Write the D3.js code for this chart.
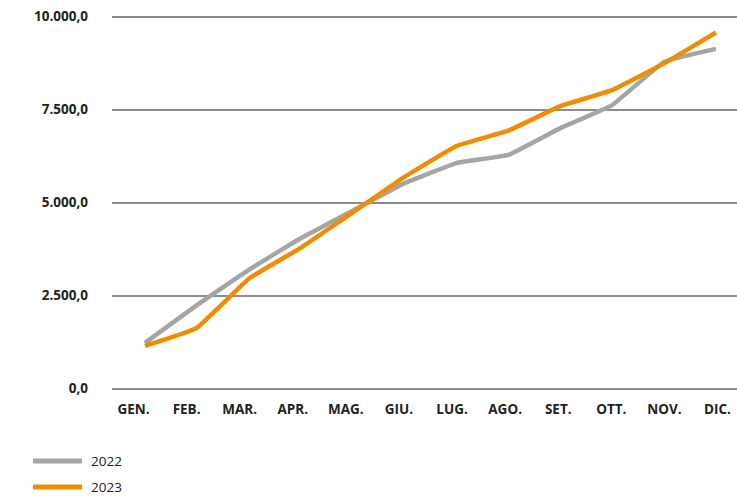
<!DOCTYPE html>
<html>
<head>
<meta charset="utf-8">
<script src="https://cdn.jsdelivr.net/npm/d3@7"></script>
<style>
  body { margin: 0; background: #fff; }
  svg, svg text { font-family: "Open Sans", sans-serif; }
</style>
</head>
<body>
<svg></svg>
<script>
const width = 737;
const height = 497;

// dati
const mesi = ["GEN.", "FEB.", "MAR.", "APR.", "MAG.", "GIU.", "LUG.", "AGO.", "SET.", "OTT.", "NOV.", "DIC."];
const valori2022 = [1225, 2240, 3190, 4040, 4780, 5520, 6060, 6280, 7000, 7620, 8780, 9130];
const valori2023 = [1145, 1630, 2950, 3780, 4730, 5690, 6520, 6930, 7590, 8020, 8740, 9570];
const yTicks = [0, 2500, 5000, 7500, 10000];
const serie = [
  { nome: "2022", valori: valori2022, colore: "#a5a5a5" },
  { nome: "2023", valori: valori2023, colore: "#f08c00" }
];

let svg = d3.select("svg")
    .attr("width", width)
    .attr("height", height);

// scale
const scaleX = d3.scalePoint().domain(mesi).range([145, 716]);
const scaleLab = d3.scalePoint().domain(mesi).range([133, 717]);
const scaleY = d3.scaleLinear().domain([0, 10000]).range([388.5, 16.5]);

const fmt = v => d3.format(",.1f")(v).replace(/,/g, "#").replace(".", ",").replace(/#/g, ".");

// griglia e asse Y
const axisY = d3.axisLeft(scaleY)
    .tickValues(yTicks)
    .tickSize(-(width - 112))
    .tickFormat(fmt);

svg.append("g")
    .attr("transform", "translate(112,0)")
    .call(axisY)
    .attr("font-family", null)
    .call(g => g.select(".domain").remove())
    .call(g => g.selectAll("line").attr("stroke", "#1a1a1a").attr("stroke-width", 1))
    .call(g => g.selectAll("text")
        .attr("x", -24)
        .attr("font-size", 13.5)
        .attr("font-weight", "bold")
        .attr("fill", "#222"));

// asse X (solo etichette)
svg.append("g")
    .attr("transform", "translate(0,398)")
    .call(d3.axisBottom(scaleLab).tickSize(0))
    .attr("font-family", null)
    .call(g => g.select(".domain").remove())
    .call(g => g.selectAll("text")
        .attr("dy", "0.95em")
        .attr("font-size", 13.5)
        .attr("font-weight", "bold")
        .attr("fill", "#222"));

// linee (smussatura lieve)
const line = d3.line()
    .x((d, i) => scaleX(mesi[i]))
    .y(d => scaleY(d))
    .curve(d3.curveCardinal.tension(0.75));

for (let s of serie) {
  svg.append("path")
    .datum(s.valori)
    .attr("fill", "none")
    .attr("stroke", s.colore)
    .attr("stroke-width", 4.5)
    .attr("stroke-linejoin", "round")
    .attr("d", line);
}

// legenda
const legend = svg.selectAll(".leg")
    .data(serie)
    .enter()
    .append("g")
    .attr("transform", (d, i) => `translate(33, ${461 + i * 26})`);

legend.append("line")
    .attr("x1", 0).attr("x2", 49)
    .attr("stroke", d => d.colore)
    .attr("stroke-width", 5);

legend.append("text")
    .attr("x", 58)
    .attr("dy", "0.35em")
    .attr("font-size", 13.5)
    .attr("fill", "#222")
    .text(d => d.nome);
</script>
</body>
</html>
